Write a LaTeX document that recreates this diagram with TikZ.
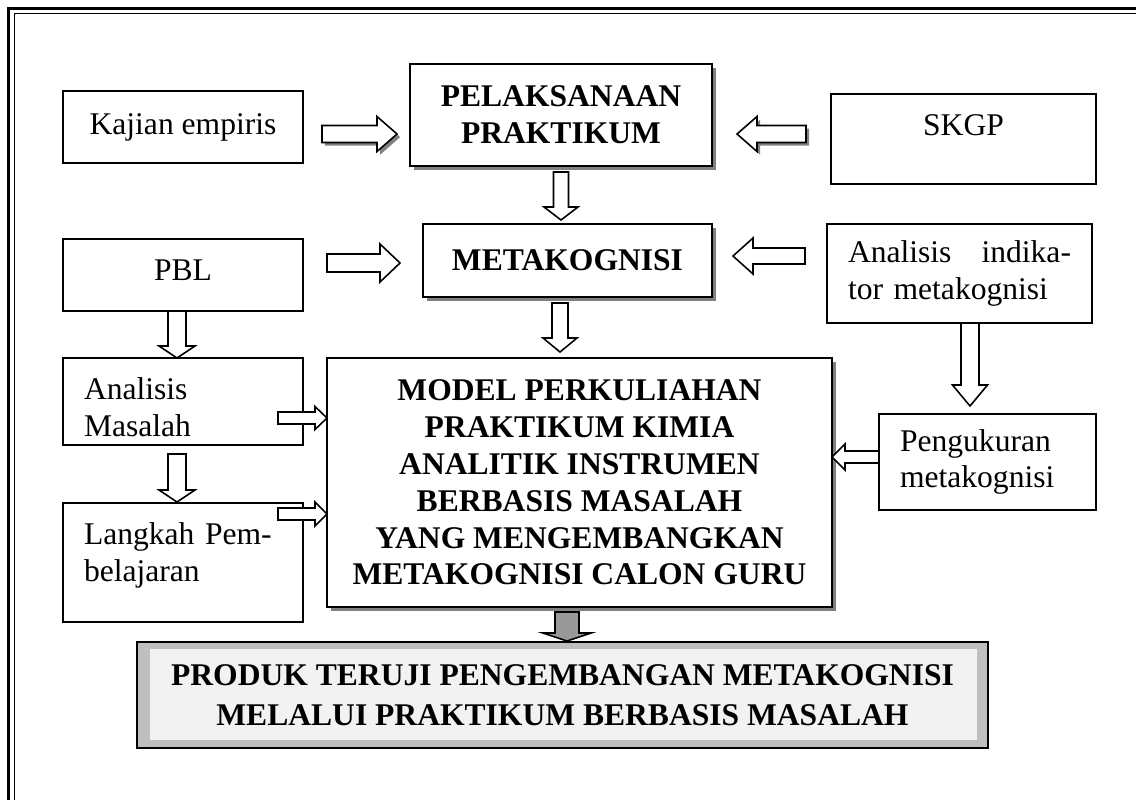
\documentclass[tikz,border=0pt]{standalone}
\usepackage{fontspec}
\setmainfont{Liberation Serif}
\usepackage{tikz}
\usetikzlibrary{calc, positioning, shadows}

\newcommand{\pxu}{0.38pt}
% hollow block arrow: [style]{from}{to}{shaft half}{head half}{head length}
\newcommand{\blockarrow}[6][]{%
  \coordinate (ba-s) at #2;
  \coordinate (ba-e) at #3;
  \coordinate (ba-h) at ($(ba-e)!#6*\pxu!(ba-s)$);
  \draw[barrow, #1] ($(ba-s)!#4*\pxu!90:(ba-e)$) -- ($(ba-h)!#4*\pxu!90:(ba-e)$)
    -- ($(ba-h)!#5*\pxu!90:(ba-e)$) -- (ba-e)
    -- ($(ba-h)!#5*\pxu!-90:(ba-e)$) -- ($(ba-h)!#4*\pxu!-90:(ba-e)$)
    -- ($(ba-s)!#4*\pxu!-90:(ba-e)$) -- cycle;
}

\begin{document}
\begin{tikzpicture}[
  x=\pxu, y=-\pxu,
  font=\fontsize{12pt}{14pt}\selectfont,
  box/.style={draw, line width=0.7pt, fill=white, inner sep=0pt, outer sep=0pt, align=center},
  sz/.style 2 args={minimum width=#1*\pxu, minimum height=#2*\pxu},
  shbox/.style={box, font=\fontsize{12pt}{14pt}\selectfont\bfseries,
    drop shadow={shadow xshift=1.5pt, shadow yshift=-1.5pt, fill=black!50, opacity=1}},
  barrow/.style={draw, fill=white, line width=0.6pt, line join=miter},
  sharrow/.style={drop shadow={shadow xshift=1.2pt, shadow yshift=-1.2pt, fill=black!50, opacity=1}}
]
  \useasboundingbox (0,0) rectangle (1136,799);

  % page frame
  \draw[line width=1.1pt] (8.7,830) -- (8.7,8.7) -- (1170,8.7);
  \draw[line width=0.6pt] (14.3,830) -- (14.3,13.7) -- (1170,13.7);

  % boxes
  \node[box, sz={240}{72}] (kajian) at (183,127) {Kajian empiris};
  \node[shbox, sz={302}{102}] (pel) at (561,115) {PELAKSANAAN\\PRAKTIKUM};
  \node[box, sz={265}{90}, text height=8pt, text depth=11pt] (skgp) at (963.5,139) {SKGP};
  \node[box, sz={240}{72}, text depth=4pt] (pbl) at (183,275) {PBL};
  \node[shbox, sz={289}{73}] (meta) at (567.5,260.5) {METAKOGNISI};
  \node[box, sz={265}{99}, text width=223*\pxu, align=left] (ind) at (959.5,273.5)
    {Analisis\hfill indika-\\tor metakognisi};
  \node[box, sz={240}{87}, text width=198*\pxu, align=left, text depth=10pt] (am) at (183,401.5) {Analisis\\Masalah};
  \node[box, sz={240}{119}, text width=198*\pxu, align=left, text depth=22pt] (lp) at (183,562.5) {Langkah Pem-\\belajaran};
  \node[shbox, sz={505}{249}] (model) at (579.5,482.5)
    {MODEL PERKULIAHAN\\PRAKTIKUM KIMIA\\ANALITIK INSTRUMEN\\BERBASIS MASALAH\\YANG MENGEMBANGKAN\\METAKOGNISI CALON GURU};
  \node[box, sz={217}{96}, text width=175*\pxu, align=left] (peng) at (987.5,462) {Pengukuran\\metakognisi};
  \node[box, sz={851}{106}, fill=black!25, line width=0.8pt,
    font=\fontsize{12pt}{15pt}\selectfont\bfseries,
    path picture={\fill[black!5] ($(path picture bounding box.north west)+(13,7)$)
      rectangle ($(path picture bounding box.south east)+(-11,-8)$);}] (produk) at (562.5,695)
    {PRODUK TERUJI PENGEMBANGAN METAKOGNISI\\MELALUI PRAKTIKUM BERBASIS MASALAH};

  % block arrows
  \blockarrow[sharrow]{($(kajian.east)+(19,7)$)}{($(pel.west |- kajian.east)+(-13,7)$)}{8.5}{17.5}{20}
  \blockarrow[sharrow]{($(skgp.west)+(-25,-5)$)}{($(pel.east |- skgp.west)+(25,-5)$)}{8.5}{17.5}{20}
  \blockarrow{($(pel.south)+(0,6)$)}{($(meta.north -| pel.south)+(0,-4)$)}{7.5}{17}{13}
  \blockarrow{($(pbl.east)+(24,-12)$)}{($(meta.west |- pbl.east)+(-23,-12)$)}{9}{19}{20}
  \blockarrow{($(ind.west)+(-22,-17.5)$)}{($(meta.east |- ind.west)+(21,-17.5)$)}{8}{18}{20}
  \blockarrow{($(meta.south)+(-7.5,6)$)}{($(model.north -| meta.south)+(-7.5,-6)$)}{8}{17}{14}
  \blockarrow{($(pbl.south)+(-6,0)$)}{($(am.north)+(-6,0)$)}{9}{18}{12}
  \blockarrow{($(am.south)+(-6,9)$)}{($(lp.north)+(-6,-1)$)}{9}{18}{12}
  \blockarrow{($(am.east)+(-25,16.5)$)}{($(model.west |- am.east)+(0,16.5)$)}{6}{11.5}{12}
  \blockarrow{($(lp.east)+(-25,-48.5)$)}{($(model.west |- lp.east)+(0,-48.5)$)}{6}{12}{12}
  \blockarrow{($(ind.south)+(10.5,0)$)}{($(peng.north -| ind.south)+(10.5,-8)$)}{9}{17.5}{21}
  \blockarrow{($(peng.west)+(0,-5)$)}{($(model.east |- peng.west)+(0,-5)$)}{6}{13}{13}
  \blockarrow[fill=black!40]{($(model.south)+(-12.5,5)$)}{($(produk.north -| model.south)+(-12.5,-1)$)}{12}{24}{8}
\end{tikzpicture}
\end{document}
